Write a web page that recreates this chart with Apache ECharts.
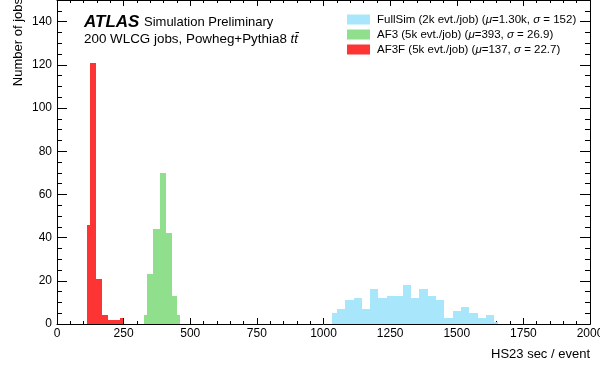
<!DOCTYPE html>
<html>
<head>
<meta charset="utf-8">
<script src="https://cdn.jsdelivr.net/npm/echarts@6/dist/echarts.min.js"></script>
<style>html,body{margin:0;padding:0;background:#fff}#c{width:600px;height:367px}</style>
</head>
<body>
<div id="c"></div>
<script>
// ---- data ----
const seriesNames = ['FullSim', 'AF3', 'AF3F'];
const legendLabels = [
  'FullSim (2k evt./job) ({i|μ}=1.30k, {i|σ} = 152)',
  'AF3 (5k evt./job) ({i|μ}=393, {i|σ} = 26.9)',
  'AF3F (5k evt./job) ({i|μ}=137, {i|σ} = 22.7)'
];
const fullEdges = [1033, 1050, 1082, 1113, 1144, 1175, 1206, 1237, 1268, 1298, 1328, 1360, 1391, 1422, 1453, 1485, 1516, 1547, 1578, 1610, 1641, 1656];
const fullCounts = [5, 7, 11, 12, 7, 16, 12, 13, 13, 18, 12, 16, 13, 11, 3, 6, 8, 5, 3, 4, 1];
const af3Edges = [327, 337, 361, 386, 409, 432, 451, 462];
const af3Counts = [4, 23, 44, 70, 42, 13, 4];
const af3fEdges = [111, 124, 145, 168, 190, 213, 236, 249];
const af3fCounts = [46, 121, 21, 4, 2, 2, 3];
const xTicks = [0, 250, 500, 750, 1000, 1250, 1500, 1750, 2000];
const yTicks = [0, 20, 40, 60, 80, 100, 120, 140];

const colors = ['#a8e7fb', '#8fdf8d', '#fd3434'];
const FONT = '"Liberation Sans", Arial, Helvetica, sans-serif';

function toBins(edges, counts) {
  return counts.map((c, i) => [edges[i], edges[i + 1], c]);
}
const binSets = [toBins(fullEdges, fullCounts), toBins(af3Edges, af3Counts), toBins(af3fEdges, af3fCounts)];

function makeRender(color) {
  return function (params, api) {
    const p0 = api.coord([api.value(0), api.value(2)]);
    const p1 = api.coord([api.value(1), 0]);
    const x0 = Math.round(p0[0]), x1 = Math.round(p1[0]);
    const y0 = Math.round(p0[1]), y1 = Math.round(p1[1]);
    return { type: 'rect', shape: { x: x0, y: y0, width: x1 - x0, height: y1 - y0 }, style: { fill: color } };
  };
}

const chart = echarts.init(document.getElementById('c'), null, { renderer: 'canvas' });

const axisLine = { show: true, onZero: false, lineStyle: { color: '#000', width: 1 } };
const xBase = {
  type: 'value', min: 0, max: 2000, interval: 250, gridIndex: 0,
  axisLine: axisLine,
  axisTick: { show: true, inside: true, length: 6, lineStyle: { color: '#000' } },
  minorTick: { show: true, splitNumber: 5, length: 3, lineStyle: { color: '#000' } },
  splitLine: { show: false }, minorSplitLine: { show: false }
};
function yAxisDef(position, interval, len, labels) {
  return {
    type: 'value', min: 0, max: 150, interval: interval, position: position, gridIndex: 0,
    axisLine: axisLine,
    axisTick: { show: true, inside: true, length: len, lineStyle: { color: '#000' } },
    axisLabel: labels ? {
      show: true, margin: 5, fontSize: 12, color: '#000', fontFamily: FONT, showMaxLabel: false,
      formatter: v => (yTicks.indexOf(v) >= 0 ? String(v) : '')
    } : { show: false },
    splitLine: { show: false }
  };
}

const legendRich = { i: { fontStyle: 'italic', fontSize: 11.5, fontFamily: FONT, color: '#000', lineHeight: 15 } };

chart.setOption({
  animation: false,
  backgroundColor: '#fff',
  grid: { left: 57, right: 10, top: 0, bottom: 43, containLabel: false, outerBoundsMode: 'none' },
  xAxis: [
    Object.assign({}, xBase, {
      position: 'bottom',
      axisLabel: { show: true, margin: 4, fontSize: 12, color: '#000', fontFamily: FONT, hideOverlap: false,
        formatter: v => (xTicks.indexOf(v) >= 0 ? String(v) : '') }
    }),
    Object.assign({}, xBase, { position: 'top', axisLabel: { show: false } })
  ],
  yAxis: [
    yAxisDef('left', 20, 10, true),
    yAxisDef('left', 5, 5, false),
    yAxisDef('right', 20, 10, false),
    yAxisDef('right', 5, 5, false)
  ],
  legend: {
    orient: 'vertical', left: 347, top: 12, padding: 0, itemGap: 0,
    itemWidth: 23, itemHeight: 10, icon: 'rect',
    data: seriesNames.map((n, i) => ({ name: n, icon: 'rect', itemStyle: { color: colors[i] } })),
    formatter: name => legendLabels[seriesNames.indexOf(name)],
    selectedMode: false,
    textStyle: { fontSize: 11.5, fontFamily: FONT, color: '#000', lineHeight: 15, padding: [0, 0, 0, 2], rich: legendRich }
  },
  series: seriesNames.map((n, i) => ({
    name: n, type: 'custom', xAxisIndex: 0, yAxisIndex: 0,
    itemStyle: { color: colors[i] }, color: colors[i],
    renderItem: makeRender(colors[i]),
    encode: { x: [0, 1], y: 2 },
    clip: true,
    data: binSets[i],
    z: 1
  })),
  graphic: [
    { type: 'text', x: 84, y: 22, style: { text: 'ATLAS', font: 'italic bold 17px ' + FONT, fill: '#000', verticalAlign: 'middle' } },
    { type: 'text', x: 144, y: 22, style: { text: 'Simulation Preliminary', font: '13px ' + FONT, fill: '#000', verticalAlign: 'middle' } },
    { type: 'text', x: 84, y: 39, style: {
        text: '200 WLCG jobs, Powheg+Pythia8 {i|tt̄}', font: '13.4px ' + FONT, fill: '#000', verticalAlign: 'middle',
        rich: { i: { fontStyle: 'italic', fontSize: 13.4, fontFamily: FONT, fill: '#000' } } } },
    { type: 'text', x: 18, y: -2, rotation: Math.PI / 2, style: { text: 'Number of jobs', font: '13px ' + FONT, fill: '#000', align: 'right', verticalAlign: 'middle' } },
    { type: 'text', x: 590, y: 354, style: { text: 'HS23 sec / event', font: '13px ' + FONT, fill: '#000', align: 'right', verticalAlign: 'middle' } }
  ]
});
</script>
</body>
</html>
